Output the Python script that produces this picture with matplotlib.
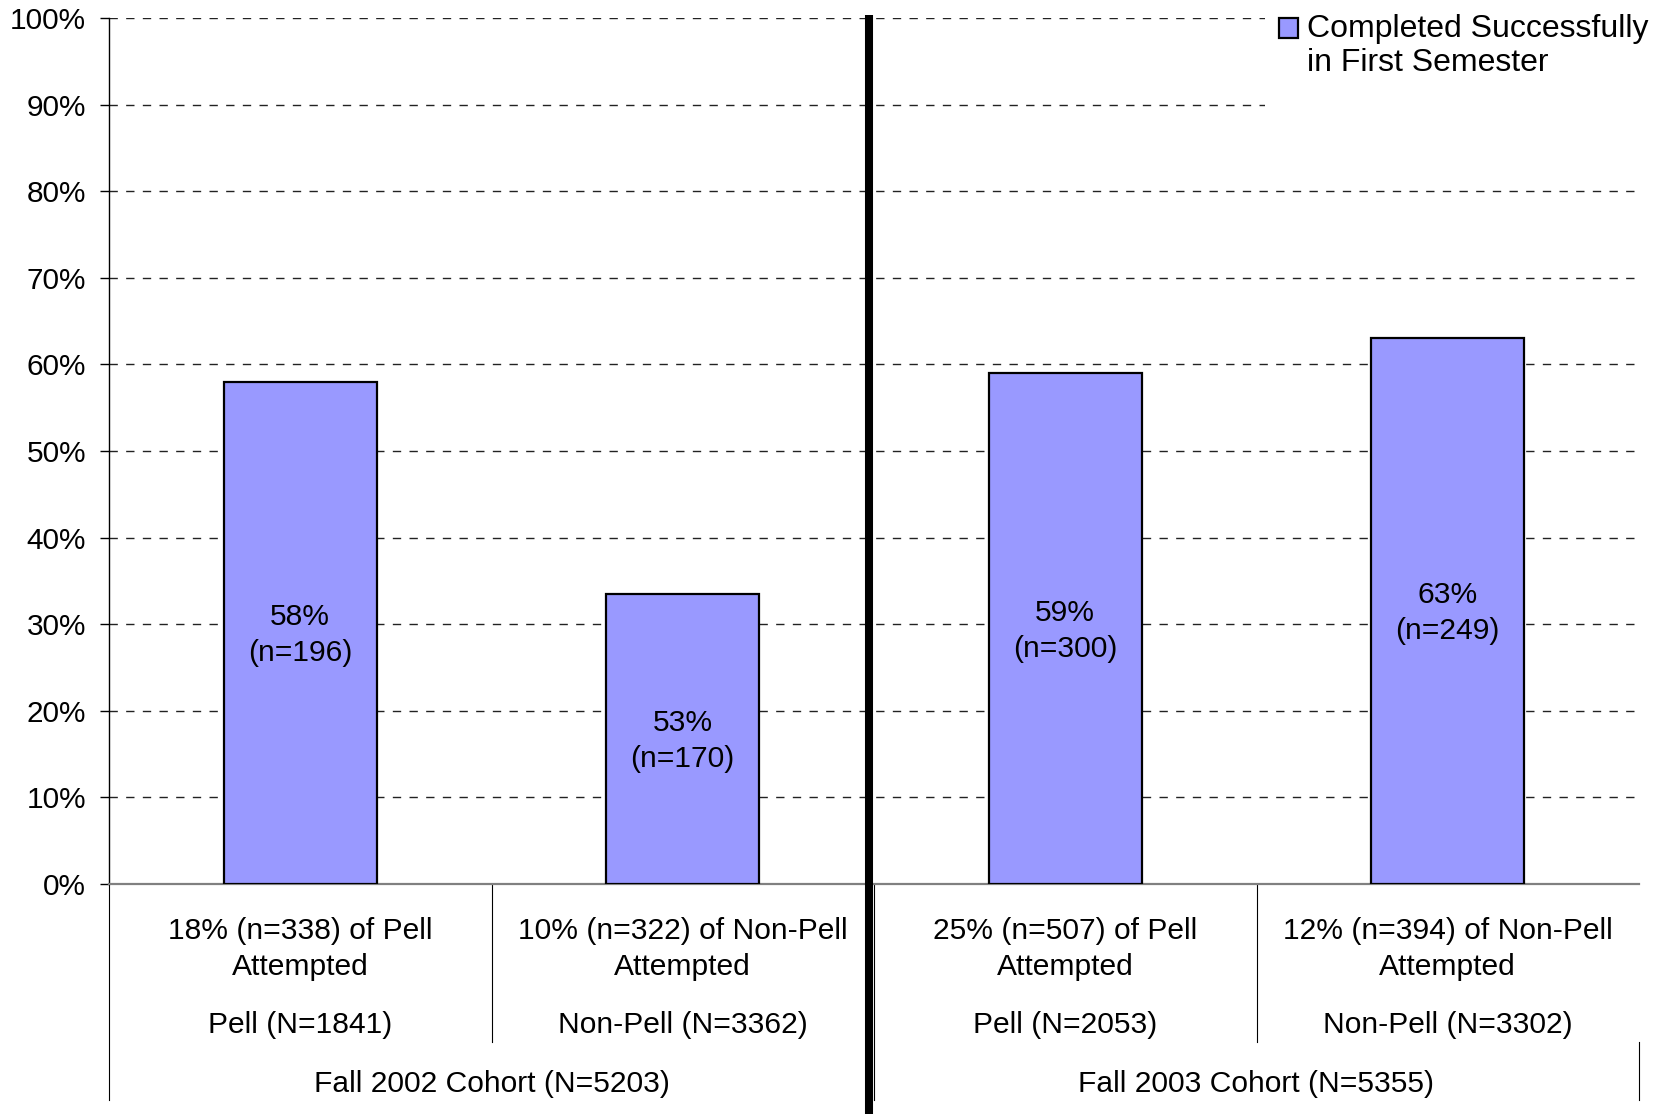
import numpy as np
import matplotlib
matplotlib.use('Agg')
import matplotlib.pyplot as plt
from matplotlib import ticker, transforms
from matplotlib.patches import Rectangle
from matplotlib.offsetbox import DrawingArea, TextArea, HPacker, AnchoredOffsetbox

plt.rcParams['font.family'] = ['Liberation Sans', 'DejaVu Sans']

# data
cohorts = ['Fall 2002 Cohort (N=5203)', 'Fall 2003 Cohort (N=5355)']
groups = ['Pell (N=1841)', 'Non-Pell (N=3362)', 'Pell (N=2053)', 'Non-Pell (N=3302)']
attempted = ['18% (n=338) of Pell\nAttempted', '10% (n=322) of Non-Pell\nAttempted',
             '25% (n=507) of Pell\nAttempted', '12% (n=394) of Non-Pell\nAttempted']
completed = [58.0, 33.5, 59.0, 63.0]
bar_labels = ['58%\n(n=196)', '53%\n(n=170)', '59%\n(n=300)', '63%\n(n=249)']
legend_label = 'Completed Successfully\nin First Semester'

bar_color = '#9999FF'
fs = 21.6

fig = plt.figure(figsize=(16.59, 11.14), dpi=100)
ax = fig.add_axes([109 / 1659, 1 - 884 / 1114, 1530 / 1659, 866 / 1114])

x = np.arange(len(completed))
bars = ax.bar(x, completed, width=0.40, color=bar_color, edgecolor='black', linewidth=1.6, zorder=3)
for b, lab in zip(bars, bar_labels):
    ax.annotate(lab, (b.get_x() + b.get_width() / 2, b.get_height() / 2), xytext=(0, -1.5),
                textcoords='offset points', ha='center', va='center',
                fontsize=fs, linespacing=1.37, zorder=4)

ax.set_xlim(-0.5, len(completed) - 0.5)
ax.set_ylim(0, 100)
ax.set_yticks(np.arange(0, 101, 10))
ax.yaxis.set_major_formatter(ticker.FuncFormatter(lambda v, p: f'{v:.0f}%'))
ax.tick_params(axis='y', labelsize=21.4, length=6.5, width=1, pad=10, color='black')
ax.set_xticks([])
ax.set_axisbelow(True)
ax.yaxis.grid(True, color='#222222', linestyle=(0, (6, 6)), linewidth=1)

for s in ['top', 'right']:
    ax.spines[s].set_visible(False)
ax.spines['left'].set_color('black')
ax.spines['left'].set_linewidth(1)
ax.spines['bottom'].set_color('#808080')
ax.spines['bottom'].set_linewidth(1.6)

# multi-level category axis below the plot
trans = transforms.blended_transform_factory(ax.transData, ax.transAxes)
inner_bottom = -0.1824
outer_bottom = -0.2494
line_kw = dict(transform=trans, clip_on=False, color='black', linewidth=0.8)
ax.plot([-0.5, -0.5], [0, outer_bottom], **line_kw)
ax.plot([0.5, 0.5], [0, inner_bottom], **line_kw)
ax.plot([2.5, 2.5], [0, inner_bottom], **line_kw)
ax.plot([1.5, 1.5], [0, outer_bottom], **line_kw)
ax.plot([3.5, 3.5], [inner_bottom, outer_bottom], **line_kw)

for xi, lab, grp in zip(x, attempted, groups):
    ax.text(xi, -0.0748, lab, transform=trans, ha='center', va='center', fontsize=fs, linespacing=1.37)
    ax.text(xi, -0.1632, grp, transform=trans, ha='center', va='center', fontsize=fs)
for ci, lab in enumerate(cohorts):
    ax.text(ci * 2 + 0.5, -0.2307, lab, transform=trans, ha='center', va='center', fontsize=fs)

# thick divider between the two cohorts
ax.plot([1.487, 1.487], [1.0035, -0.3], transform=trans, clip_on=False, color='black',
        linewidth=5.8, solid_capstyle='butt', zorder=5)

# legend
da = DrawingArea(14, 72, 0, 0)
da.add_artist(Rectangle((0, 72 - 14 - 3), 14, 14, facecolor=bar_color, edgecolor='black', linewidth=1.6))
ta = TextArea(legend_label, textprops=dict(fontsize=23.0, linespacing=1.19))
box = HPacker(children=[da, ta], align='top', pad=0, sep=6)
leg = AnchoredOffsetbox(loc='upper left', child=box, pad=1.0, borderpad=0,
                        bbox_to_anchor=(1265 / 1659, 1.0), bbox_transform=fig.transFigure,
                        frameon=True)
leg.patch.set_facecolor('white')
leg.patch.set_edgecolor('none')
leg.patch.set_boxstyle('square', pad=0)
leg.set_zorder(6)
fig.add_artist(leg)

fig.savefig('out.png', dpi=100, facecolor='white')
